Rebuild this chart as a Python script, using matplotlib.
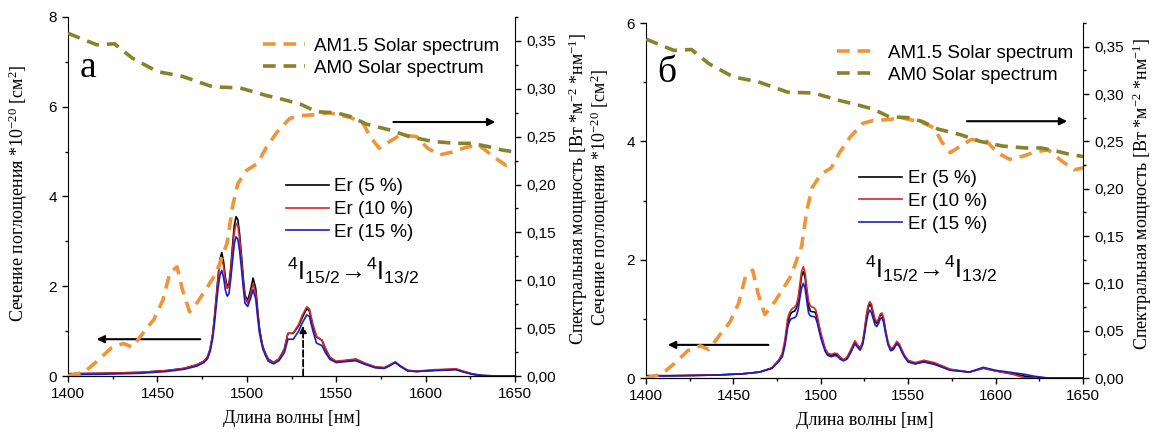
import numpy as np
import matplotlib
matplotlib.use("Agg")
import matplotlib.pyplot as plt
from matplotlib.ticker import MultipleLocator, FuncFormatter

plt.rcParams['font.family'] = ['Liberation Sans', 'DejaVu Sans']
plt.rcParams['mathtext.fontset'] = 'custom'
plt.rcParams['mathtext.rm'] = 'Liberation Serif'
plt.rcParams['mathtext.it'] = 'Liberation Serif:italic'
plt.rcParams['mathtext.sf'] = 'Liberation Sans'

# --- solar spectra (right axis, Вт*м^-2*нм^-1) ---
am15_wl = [1400, 1409, 1416, 1424, 1431, 1436, 1442, 1448, 1453, 1457, 1461, 1464,
           1468, 1472, 1478, 1483, 1489, 1492, 1495, 1500, 1506, 1511, 1517, 1524,
           1530, 1539, 1546, 1558, 1565, 1569, 1574, 1580, 1586, 1595, 1601, 1608,
           1615, 1623, 1630, 1638, 1645, 1650]
am15_val = [0.000, 0.004, 0.015, 0.029, 0.034, 0.030, 0.045, 0.059, 0.079, 0.108, 0.114, 0.090,
            0.067, 0.076, 0.093, 0.108, 0.139, 0.177, 0.201, 0.215, 0.222, 0.239, 0.255, 0.269,
            0.272, 0.273, 0.275, 0.270, 0.264, 0.250, 0.238, 0.245, 0.252, 0.250, 0.238, 0.231,
            0.234, 0.239, 0.241, 0.229, 0.220, 0.222]
am0_wl = [1400, 1416, 1426, 1436, 1450, 1464, 1481, 1496, 1511, 1520, 1530, 1539,
          1550, 1558, 1567, 1580, 1591, 1604, 1617, 1626, 1634, 1643, 1650]
am0_val = [0.358, 0.346, 0.347, 0.332, 0.318, 0.313, 0.302, 0.301, 0.293, 0.289, 0.284, 0.276,
           0.275, 0.271, 0.263, 0.257, 0.250, 0.245, 0.243, 0.243, 0.240, 0.236, 0.234]

# --- panel а: absorption cross section, Er 5/10/15 % ---
wl_a = [1400, 1420, 1440, 1455, 1465, 1472, 1476, 1478, 1479.5, 1481,
        1482, 1483, 1484, 1485, 1486, 1487, 1488, 1489, 1490, 1491,
        1492, 1493, 1494, 1495, 1496, 1497, 1498, 1499, 1500.5, 1502,
        1503.5, 1505, 1506, 1507, 1508, 1509, 1510.5, 1512, 1515, 1518,
        1521, 1523, 1526, 1529, 1531, 1533.5, 1535, 1537, 1539, 1542,
        1544, 1546.5, 1550, 1555, 1561, 1566, 1572, 1577, 1580, 1583,
        1586, 1590, 1595, 1605, 1617, 1621, 1626, 1632, 1640, 1650]
er5_a = [0.05, 0.06, 0.08, 0.12, 0.17, 0.25, 0.33, 0.42, 0.60, 0.95,
         1.35, 1.80, 2.25, 2.60, 2.75, 2.55, 2.20, 2.00, 2.05, 2.40,
         2.90, 3.35, 3.55, 3.48, 3.15, 2.70, 2.20, 1.80, 1.68, 1.90,
         2.18, 1.95, 1.50, 1.10, 0.85, 0.65, 0.50, 0.38, 0.30, 0.38,
         0.60, 0.95, 0.95, 1.12, 1.30, 1.50, 1.45, 1.10, 0.87, 0.80,
         0.60, 0.40, 0.32, 0.34, 0.37, 0.28, 0.20, 0.18, 0.24, 0.31,
         0.22, 0.12, 0.10, 0.13, 0.15, 0.10, 0.04, 0.01, 0.00, 0.00]
er10_a = [0.05, 0.06, 0.08, 0.12, 0.17, 0.25, 0.33, 0.42, 0.60, 0.95,
          1.33, 1.75, 2.18, 2.50, 2.60, 2.45, 2.12, 1.95, 2.00, 2.32,
          2.78, 3.20, 3.40, 3.35, 3.05, 2.60, 2.12, 1.75, 1.62, 1.82,
          2.05, 1.85, 1.42, 1.05, 0.82, 0.63, 0.48, 0.37, 0.30, 0.38,
          0.60, 0.95, 0.96, 1.15, 1.35, 1.54, 1.50, 1.15, 0.88, 0.80,
          0.62, 0.42, 0.33, 0.35, 0.38, 0.29, 0.20, 0.19, 0.25, 0.31,
          0.22, 0.13, 0.11, 0.14, 0.16, 0.11, 0.05, 0.01, 0.00, 0.00]
er15_a = [0.03, 0.04, 0.06, 0.10, 0.15, 0.22, 0.30, 0.38, 0.55, 0.85,
          1.20, 1.60, 1.98, 2.25, 2.35, 2.20, 1.92, 1.78, 1.83, 2.15,
          2.55, 2.95, 3.10, 3.05, 2.78, 2.40, 1.98, 1.62, 1.55, 1.72,
          1.92, 1.72, 1.33, 0.98, 0.77, 0.60, 0.45, 0.33, 0.27, 0.34,
          0.52, 0.82, 0.82, 1.00, 1.18, 1.36, 1.33, 1.00, 0.73, 0.68,
          0.52, 0.37, 0.30, 0.32, 0.34, 0.26, 0.18, 0.17, 0.23, 0.30,
          0.21, 0.11, 0.10, 0.12, 0.14, 0.09, 0.04, 0.01, 0.00, 0.00]

# --- panel б ---
wl_b = [1400, 1420, 1440, 1455, 1465, 1472, 1476, 1478, 1479.5, 1481,
        1482, 1483, 1484, 1485, 1486, 1487, 1488, 1489, 1490, 1491,
        1492, 1493, 1494, 1495, 1496, 1497, 1498, 1499, 1500, 1501,
        1502.5, 1504, 1506, 1508, 1509.5, 1511, 1513, 1515, 1517, 1519.5,
        1521, 1522.5, 1524, 1525, 1526, 1527, 1528, 1529, 1530, 1531,
        1532, 1533, 1534, 1535, 1536, 1537, 1538.5, 1540, 1541.5, 1543.5,
        1545, 1546.5, 1548, 1550, 1554, 1559, 1565, 1574, 1585, 1593,
        1600, 1610, 1617, 1622, 1630, 1650]
er5_b = [0.04, 0.04, 0.05, 0.07, 0.10, 0.17, 0.30, 0.40, 0.60, 0.90,
         1.03, 1.10, 1.12, 1.13, 1.18, 1.30, 1.50, 1.72, 1.80, 1.70,
         1.45, 1.22, 1.13, 1.12, 1.12, 1.10, 1.00, 0.85, 0.72, 0.62,
         0.48, 0.40, 0.38, 0.40, 0.39, 0.34, 0.30, 0.34, 0.45, 0.61,
         0.55, 0.50, 0.60, 0.78, 1.00, 1.18, 1.25, 1.20, 1.08, 0.96,
         0.92, 0.98, 1.06, 1.08, 0.98, 0.80, 0.58, 0.48, 0.50, 0.60,
         0.55, 0.45, 0.36, 0.28, 0.24, 0.28, 0.24, 0.14, 0.10, 0.17,
         0.12, 0.07, 0.03, 0.01, 0.00, 0.00]
er10_b = [0.03, 0.04, 0.05, 0.07, 0.10, 0.17, 0.30, 0.42, 0.65, 1.00,
          1.10, 1.15, 1.18, 1.20, 1.24, 1.35, 1.58, 1.80, 1.88, 1.78,
          1.52, 1.30, 1.22, 1.20, 1.19, 1.16, 1.05, 0.90, 0.77, 0.66,
          0.50, 0.42, 0.40, 0.42, 0.41, 0.36, 0.31, 0.35, 0.47, 0.63,
          0.56, 0.50, 0.62, 0.82, 1.05, 1.22, 1.29, 1.25, 1.12, 1.00,
          0.95, 1.00, 1.08, 1.10, 1.00, 0.82, 0.60, 0.50, 0.52, 0.62,
          0.57, 0.47, 0.38, 0.30, 0.26, 0.30, 0.26, 0.15, 0.10, 0.16,
          0.12, 0.06, 0.00, 0.00, 0.00, 0.00]
er15_b = [0.03, 0.04, 0.05, 0.07, 0.10, 0.16, 0.28, 0.36, 0.55, 0.85,
          0.95, 1.00, 1.01, 1.02, 1.05, 1.15, 1.35, 1.52, 1.60, 1.52,
          1.30, 1.10, 1.05, 1.04, 1.04, 1.02, 0.93, 0.80, 0.68, 0.58,
          0.45, 0.38, 0.36, 0.38, 0.37, 0.32, 0.29, 0.32, 0.42, 0.58,
          0.52, 0.47, 0.57, 0.74, 0.93, 1.08, 1.15, 1.10, 1.00, 0.90,
          0.87, 0.92, 1.00, 1.02, 0.93, 0.76, 0.56, 0.46, 0.48, 0.58,
          0.53, 0.43, 0.35, 0.27, 0.24, 0.27, 0.23, 0.13, 0.10, 0.18,
          0.13, 0.09, 0.06, 0.03, 0.00, 0.00]

er_labels = ['Er (5 %)', 'Er (10 %)', 'Er (15 %)']
er_colors = ['black', '#d42a2a', '#1c1cc0']
orange = '#f0943a'
olive = '#84842a'

W, H = 1162, 436
fig = plt.figure(figsize=(W / 100, H / 100), dpi=100)


def comma(v, pos):
    return f"{v:.2f}".replace('.', ',')


def panel(rect_px, ylim, wl, ers, letter, letter_xy, trans_xy, arrows,
          lab_x, leg_er_y, leg_sun_y, tag_arrow=None):
    l, r, t, b = rect_px
    ax = fig.add_axes([l / W, 1 - b / H, (r - l) / W, (b - t) / H])
    ax2 = ax.twinx()

    for vals, c, lab in zip(ers, er_colors, er_labels):
        ax.plot(wl, vals, color=c, lw=1.2, label=lab)
    ax2.plot(am15_wl, am15_val, color=orange, lw=2.6, dashes=(3.5, 2.2),
             label='AM1.5 Solar spectrum')
    ax2.plot(am0_wl, am0_val, color=olive, lw=2.6, dashes=(3.5, 2.2),
             label='AM0 Solar spectrum')

    ax.set_xlim(1400, 1650)
    ax.set_ylim(*ylim)
    ax2.set_ylim(0, 0.375)
    ax.xaxis.set_major_locator(MultipleLocator(50))
    ax.xaxis.set_minor_locator(MultipleLocator(25))
    ax.yaxis.set_major_locator(MultipleLocator(2))
    ax.yaxis.set_minor_locator(MultipleLocator(1))
    ax2.yaxis.set_major_locator(MultipleLocator(0.05))
    ax2.yaxis.set_minor_locator(MultipleLocator(0.025))
    ax2.yaxis.set_major_formatter(FuncFormatter(comma))

    for a in (ax, ax2):
        a.spines['top'].set_visible(False)
        a.tick_params(which='major', length=4.5, width=1, labelsize=11, direction='out')
        a.tick_params(which='minor', length=2.5, width=1, direction='out')
    ax.spines['right'].set_visible(False)
    ax2.spines['left'].set_visible(False)

    serif = {'family': 'Liberation Serif', 'size': 13}
    ax.set_xlabel('Длина волны [нм]', fontdict=serif)
    ax.set_ylabel(r'Сечение поглощения *10$^{-20}$ [см$^2$]', fontdict=serif)
    ax2.set_ylabel(r'Спектральная мощность [Вт *м$^{-2}$ *нм$^{-1}$]', fontdict=serif)
    ax.xaxis.set_label_coords(0.5, -0.095)
    ax.yaxis.set_label_coords(lab_x[0], 0.51)
    ax2.yaxis.set_label_coords(lab_x[1], 0.52)

    ax.text(letter_xy[0], letter_xy[1], letter, family='Liberation Serif', fontsize=27,
            ha='left', va='baseline')
    ax.text(trans_xy[0], trans_xy[1],
            r'$\mathsf{^4I_{15/2}\!\rightarrow\!^4I_{13/2}}$',
            fontsize=18, ha='left', va='baseline')

    for (x0, x1, y) in arrows:
        ax.annotate('', xy=(x1, y), xytext=(x0, y),
                    arrowprops=dict(arrowstyle='-|>', color='black', lw=1.5,
                                    mutation_scale=11, shrinkA=0, shrinkB=0))
    if tag_arrow is not None:
        x, y = tag_arrow
        ax.annotate('', xy=(x, y), xytext=(x, 0),
                    arrowprops=dict(arrowstyle='-|>', color='black', lw=1.3, ls='--',
                                    mutation_scale=10, shrinkA=0, shrinkB=0))

    ax.legend(loc='upper left', bbox_to_anchor=(0.487, leg_er_y),
              frameon=False, fontsize=13.5, handlelength=2.3, handletextpad=0.3,
              labelspacing=0.3, borderpad=0, borderaxespad=0)
    ax2.legend(loc='upper left', bbox_to_anchor=(0.437, leg_sun_y), frameon=False,
               fontsize=13.5, handlelength=2.2, handletextpad=0.5, labelspacing=0.25,
               borderpad=0, borderaxespad=0)
    return ax, ax2


panel((68, 515, 17, 376), (0, 8), wl_a, [er5_a, er10_a, er15_a], 'а',
      (1406.5, 6.66), (1522.5, 2.14),
      [(1474, 1416, 0.82), (1582, 1639, 5.66)],
      lab_x=(-0.085, 1.116), leg_er_y=0.551, leg_sun_y=0.942,
      tag_arrow=(1531.5, 1.12))
panel((646, 1083, 23, 378), (0, 6), wl_b, [er5_b, er10_b, er15_b], 'б',
      (1406.5, 5.0), (1525.3, 1.69),
      [(1470, 1412.5, 0.56), (1583.6, 1641, 4.34)],
      lab_x=(-0.078, 1.108), leg_er_y=0.586, leg_sun_y=0.939)

fig.savefig('out.png', dpi=100)
